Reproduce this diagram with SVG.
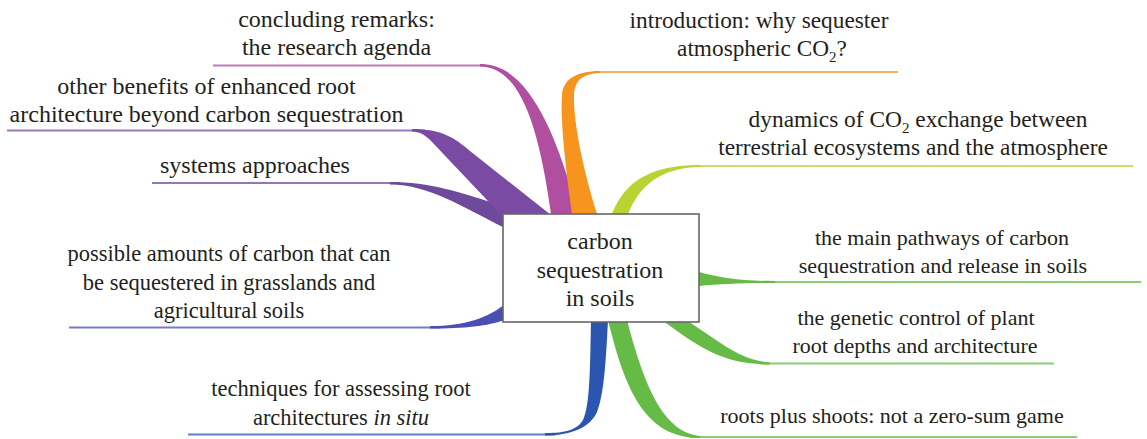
<svg xmlns="http://www.w3.org/2000/svg" width="1147" height="439" viewBox="0 0 1147 439">
<style>
text{font-family:'Liberation Serif','DejaVu Serif',serif;fill:#231f20;text-anchor:middle}
.ul{fill:none;stroke-width:2;stroke-opacity:0.75}
.box{fill:#fff;stroke:#666;stroke-width:1.6}
</style>
<rect width="1147" height="439" fill="#fff"/>
<g id="connectors">
  <path class="ul" stroke="#6d4a9c" d="M152,183 H400"/>
  <path fill="#6d4a9c" d="M390,182 C430,182 460,192 505,207 L505,228 C460,206 430,185 390,184.5 Z"/>
  <path class="ul" stroke="#7b4aa3" d="M7,130.5 H425"/>
  <path fill="#7b4aa3" d="M412,129 C442,129 455,138 470,151 L556,219 L505,219 L441,151.5 C430,140 424,131.5 412,131.5 Z"/>
  <path class="ul" stroke="#b04fa0" d="M213,65.5 H485"/>
  <path fill="#b04fa0" d="M480,64 C522,63 553,118 578,214 L551,214 C538,120 518,66.5 480,66.5 Z"/>
  <path class="ul" stroke="#f7941d" d="M595,72 H898"/>
  <path fill="#f7941d" d="M572,214 C566,170 560,120 562,95 C563,80 575,71 600,71 L600,73 C582,74 575,80 574,95 C573,120 583,170 597,214 Z"/>
  <path class="ul" stroke="#b8d433" d="M695,166 H1133"/>
  <path fill="#b8d433" d="M612,214 C622,190 640,165 700,165 L700,167 C660,168 640,185 628,214 Z"/>
  <path class="ul" stroke="#66bb46" d="M765,282 H1141"/>
  <path fill="#66bb46" d="M699,272 C722,278 740,281 775,281 L775,283 C740,283 722,284 699,286 Z"/>
  <path class="ul" stroke="#66bb46" d="M760,363.5 H1054"/>
  <path fill="#66bb46" d="M662,320 C700,348 722,364 770,364.5 L770,362.5 C738,360 718,340 686,320 Z"/>
  <path class="ul" stroke="#66bb46" d="M690,437 H1077"/>
  <path fill="#66bb46" d="M608,320 C625,390 645,438 700,438 L700,436 C665,433 645,390 627,320 Z"/>
  <path class="ul" stroke="#2a56b0" d="M188,434.5 H555"/>
  <path fill="#2a56b0" d="M591,320 C590,370 590,405 583,420 C576,432 560,433 545,433 L545,435.5 C570,435.5 590,428 597,412 C604,395 606,360 608,320 Z"/>
  <path class="ul" stroke="#4a4fb3" d="M69,327.5 H440"/>
  <path fill="#4a4fb3" d="M430,326 C465,326 488,318 505,304 L505,320 C488,326 465,328.5 430,328.5 Z"/>
</g>
<g id="center">
  <rect class="box" x="503" y="214" width="196" height="108"/>
  <text font-size="24" x="600" y="249">carbon</text>
  <text font-size="24" x="600" y="278">sequestration</text>
  <text font-size="24" x="600" y="306">in soils</text>
</g>
<g id="n-concluding">
  <text font-size="24" x="336.5" y="27">concluding remarks:</text>
  <text font-size="24" x="336.5" y="55">the research agenda</text>
</g>
<g id="n-benefits">
  <text font-size="24" x="206.5" y="94">other benefits of enhanced root</text>
  <text font-size="24" x="206.5" y="122">architecture beyond carbon sequestration</text>
</g>
<g id="n-systems">
  <text font-size="24" x="160" y="173" style="text-anchor:start">systems approaches</text>
</g>
<g id="n-amounts">
  <text font-size="22.5" x="229" y="261">possible amounts of carbon that can</text>
  <text font-size="22.5" x="229" y="290">be sequestered in grasslands and</text>
  <text font-size="22.5" x="229" y="318">agricultural soils</text>
</g>
<g id="n-techniques">
  <text font-size="22.5" x="341" y="396">techniques for assessing root</text>
  <text font-size="22.5" x="341" y="425">architectures <tspan font-style="italic">in situ</tspan></text>
</g>
<g id="n-introduction">
  <text font-size="23.3" x="759" y="28">introduction: why sequester</text>
  <text font-size="23.3" x="762" y="56">atmospheric CO<tspan font-size="15" dy="6">2</tspan><tspan dy="-6">?</tspan></text>
</g>
<g id="n-dynamics">
  <text font-size="23.4" x="918" y="127">dynamics of CO<tspan font-size="15" dy="6">2</tspan><tspan dy="-6"> exchange between</tspan></text>
  <text font-size="23.4" x="913" y="155">terrestrial ecosystems and the atmosphere</text>
</g>
<g id="n-pathways">
  <text font-size="22" x="942" y="245">the main pathways of carbon</text>
  <text font-size="22" x="943" y="273">sequestration and release in soils</text>
</g>
<g id="n-genetic">
  <text font-size="22" x="916" y="325">the genetic control of plant</text>
  <text font-size="22" x="915" y="353">root depths and architecture</text>
</g>
<g id="n-roots">
  <text font-size="22" x="892" y="423">roots plus shoots: not a zero-sum game</text>
</g>
</svg>
